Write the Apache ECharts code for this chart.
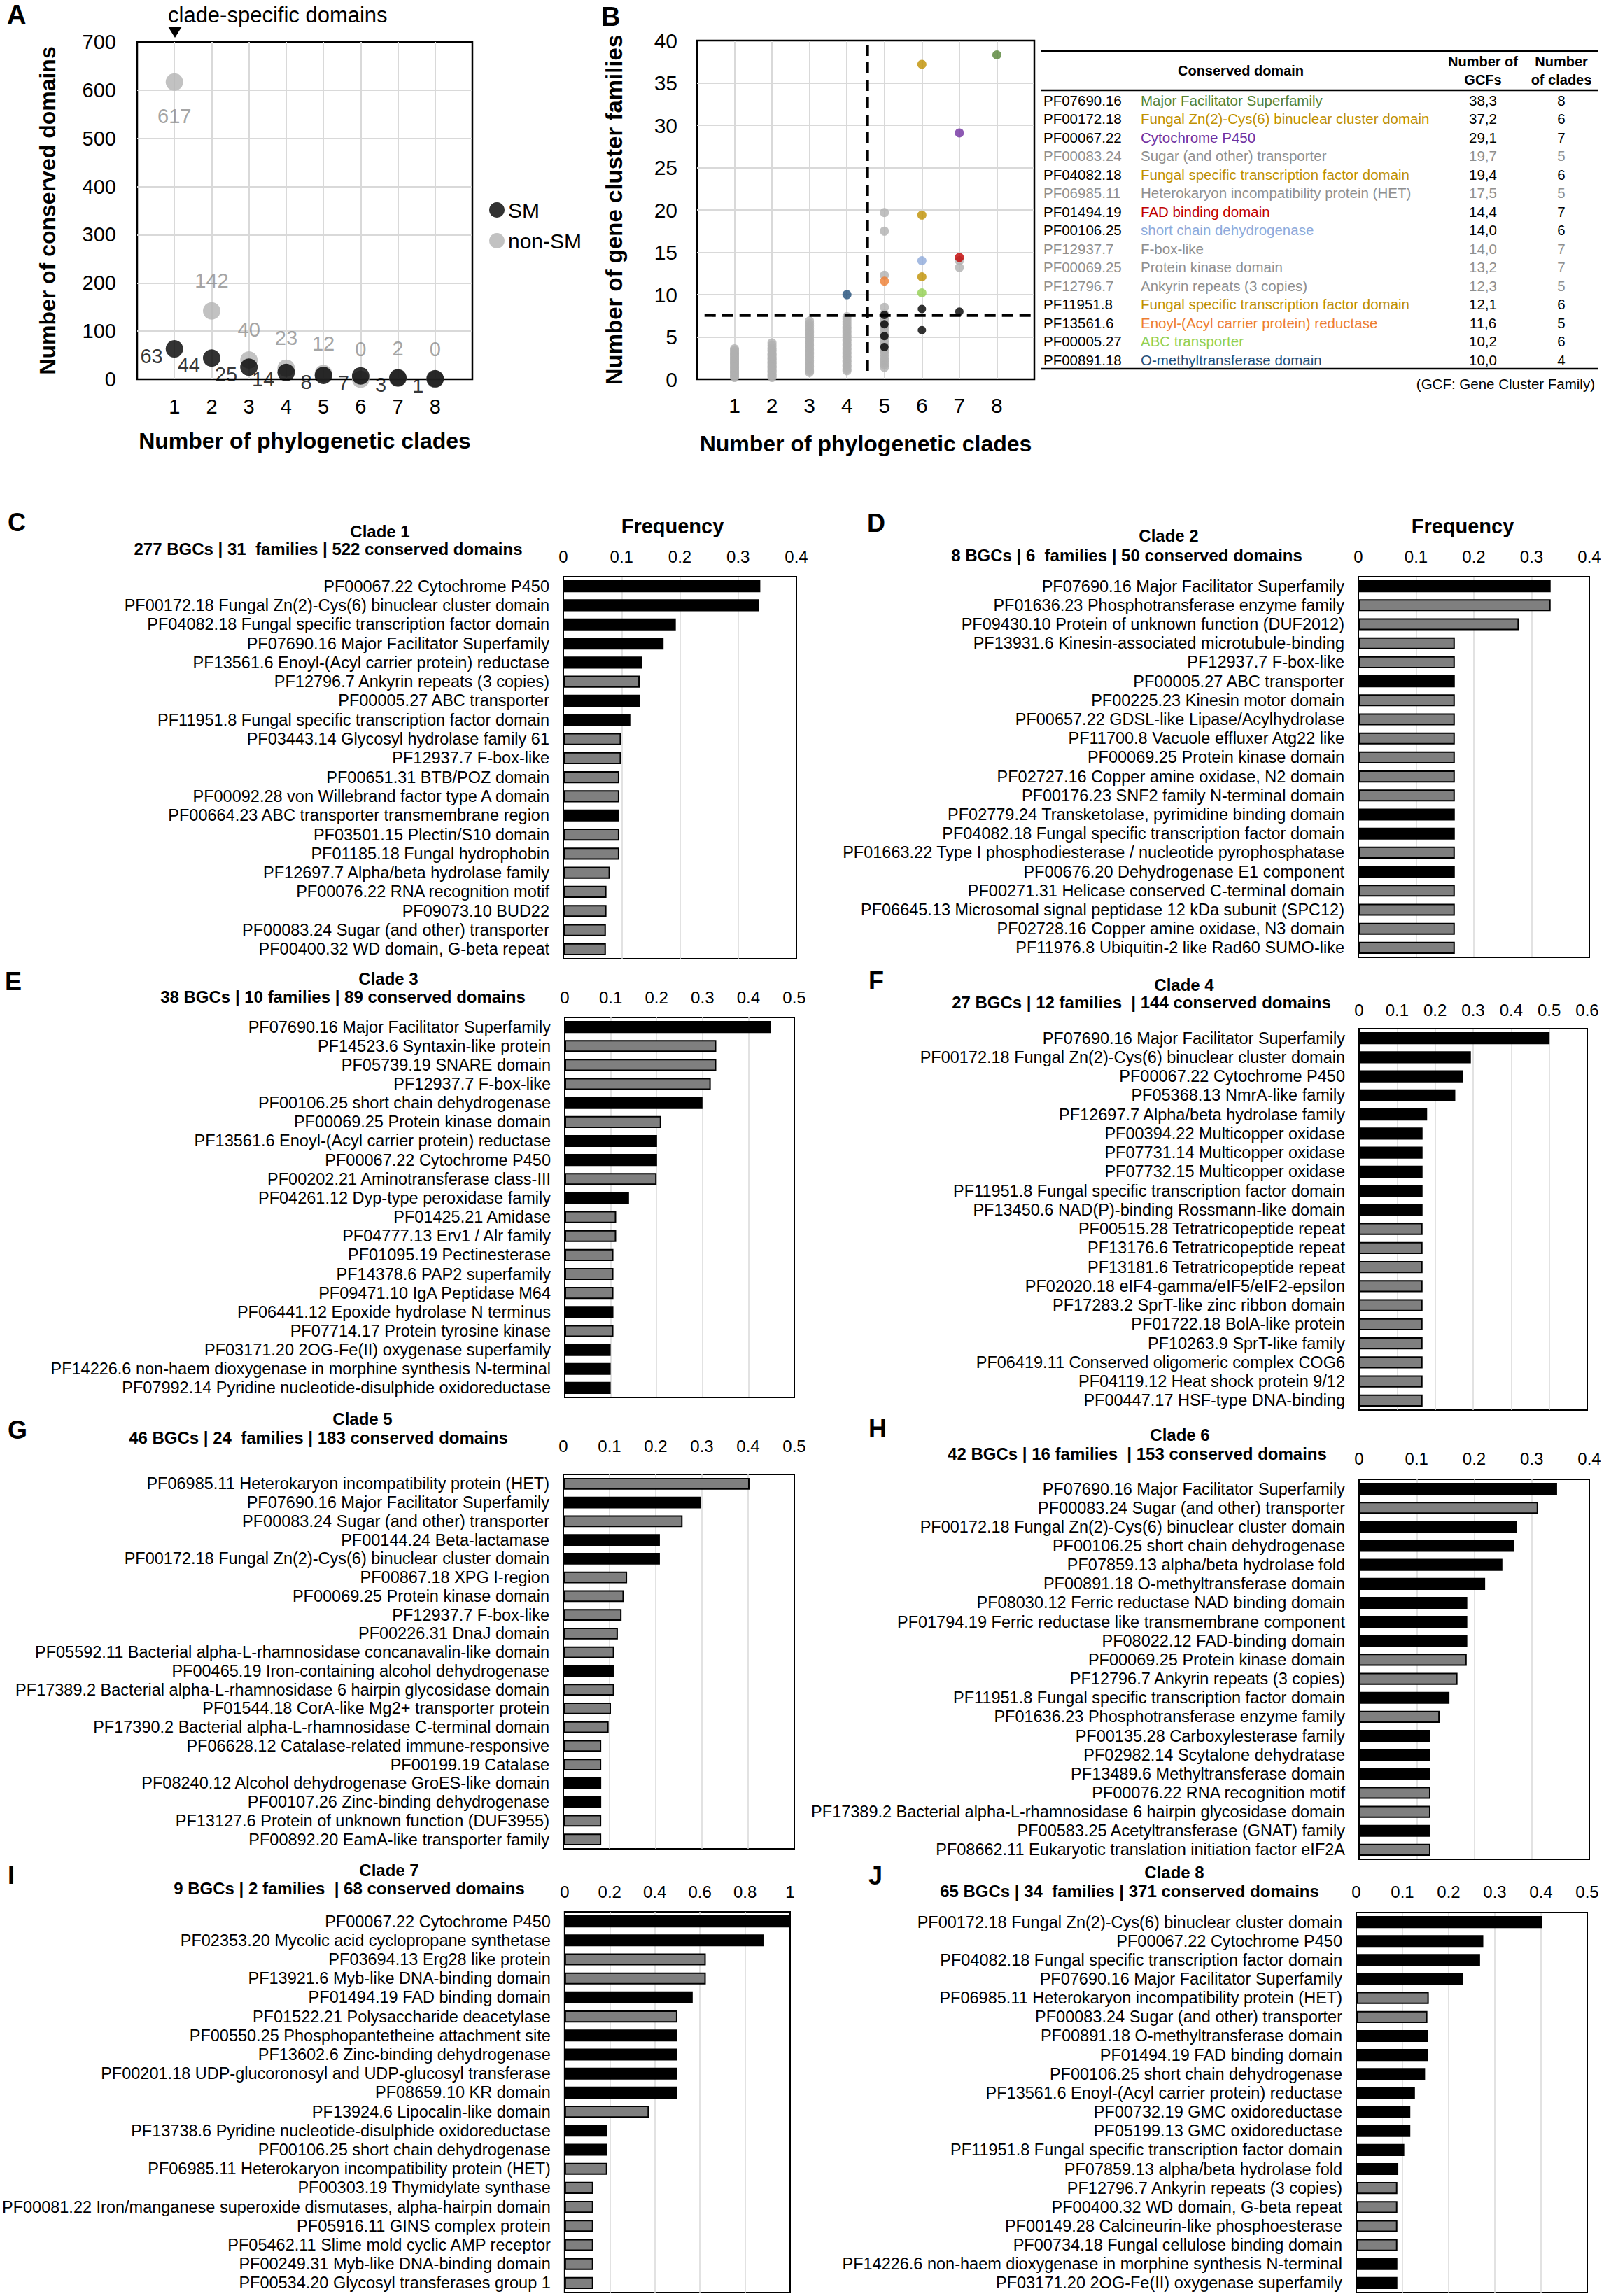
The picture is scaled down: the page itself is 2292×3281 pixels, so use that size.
<!DOCTYPE html>
<html>
<head>
<meta charset="utf-8">
<script src="https://cdn.jsdelivr.net/npm/echarts@6/dist/echarts.min.js"></script>
<style>
  html, body { margin: 0; padding: 0; background: #fff; }
  #chart { width: 2292px; height: 3281px; }
</style>
</head>
<body>
<div id="chart"></div>
<script>
const FONT = '"Liberation Sans", Arial, sans-serif';

// ---- Panel A: conserved domains per number of clades
const cladeNumbers = [1, 2, 3, 4, 5, 6, 7, 8];
const smDomains = [63, 44, 25, 14, 8, 7, 3, 1];
const nonSmDomains = [617, 142, 40, 23, 12, 0, 2, 0];

// ---- Panel B: GCFs per domain vs clades (gray = non-SM, black = SM below cut-off)
const grayClade1 = [0.2, 0.35, 0.5, 0.7, 0.85, 1.0, 1.2, 1.35, 1.5, 1.7, 1.9, 2.0, 2.2, 2.4, 2.5, 2.7, 2.9, 3.0, 3.2, 3.4, 3.6];
const grayClade2 = [0.2, 0.4, 0.5, 0.7, 0.9, 1.0, 1.2, 1.4, 1.5, 1.7, 1.9, 2.0, 2.2, 2.4, 2.5, 2.7, 2.9, 3.0, 3.3, 3.5, 3.7, 4.0, 4.3];
const grayClade3 = [0.8, 1.0, 1.2, 1.5, 1.7, 2.0, 2.2, 2.5, 2.7, 3.0, 3.2, 3.5, 3.7, 4.0, 4.2, 4.5, 4.7, 5.0, 5.2, 5.5, 5.7, 6.0, 6.3, 6.6, 6.9];
const grayClade4 = [1.0, 1.2, 1.5, 1.7, 2.0, 2.2, 2.5, 2.7, 3.0, 3.2, 3.5, 3.7, 4.0, 4.2, 4.5, 4.7, 5.0, 5.2, 5.5, 5.7, 6.0, 6.2, 6.5, 6.8, 7.1, 7.4];
const grayClade5 = [1.4, 1.7, 2.0, 2.3, 2.6, 3.0, 3.3, 3.6, 4.0, 4.3, 4.6, 5.0, 5.3, 5.6, 6.0, 6.3, 6.6, 7.0, 7.3, 7.7, 8.5];
const smLowClade = [5, 5, 5, 5, 6, 6, 7];
const smLowGcf = [7.6, 6.5, 5.1, 3.8, 8.3, 5.8, 8.0];
const cladeCutoff = 4.55;
const gcfCutoff = 7.55;

// ---- Panel B table
const tableIds = ['PF07690.16', 'PF00172.18', 'PF00067.22', 'PF00083.24', 'PF04082.18', 'PF06985.11', 'PF01494.19',
  'PF00106.25', 'PF12937.7', 'PF00069.25', 'PF12796.7', 'PF11951.8', 'PF13561.6', 'PF00005.27', 'PF00891.18'];
const tableNames = ['Major Facilitator Superfamily', 'Fungal Zn(2)-Cys(6) binuclear cluster domain', 'Cytochrome P450',
  'Sugar (and other) transporter', 'Fungal specific transcription factor domain', 'Heterokaryon incompatibility protein (HET)',
  'FAD binding domain', 'short chain dehydrogenase', 'F-box-like', 'Protein kinase domain', 'Ankyrin repeats (3 copies)',
  'Fungal specific transcription factor domain', 'Enoyl-(Acyl carrier protein) reductase', 'ABC transporter',
  'O-methyltransferase domain'];
const tableGcfs = [38.3, 37.2, 29.1, 19.7, 19.4, 17.5, 14.4, 14.0, 14.0, 13.2, 12.3, 12.1, 11.6, 10.2, 10.0];
const tableClades = [8, 6, 7, 5, 6, 5, 7, 6, 7, 7, 5, 6, 5, 6, 4];
const tableIsSm = [1, 1, 1, 0, 1, 0, 1, 1, 0, 0, 0, 1, 1, 1, 1];
const tableColors = ['#548235', '#bf9000', '#7030a0', '#8f8f8f', '#bf9000', '#8f8f8f', '#c00000',
  '#8eaadb', '#8f8f8f', '#8f8f8f', '#8f8f8f', '#bf9000', '#ed7d31', '#92d050', '#1f4e79'];

// ---- Panels C-J: top 20 domains per clade
const clade1Labels = ['PF00067.22 Cytochrome P450', 'PF00172.18 Fungal Zn(2)-Cys(6) binuclear cluster domain',
  'PF04082.18 Fungal specific transcription factor domain', 'PF07690.16 Major Facilitator Superfamily',
  'PF13561.6 Enoyl-(Acyl carrier protein) reductase', 'PF12796.7 Ankyrin repeats (3 copies)', 'PF00005.27 ABC transporter',
  'PF11951.8 Fungal specific transcription factor domain', 'PF03443.14 Glycosyl hydrolase family 61', 'PF12937.7 F-box-like',
  'PF00651.31 BTB/POZ domain', 'PF00092.28 von Willebrand factor type A domain', 'PF00664.23 ABC transporter transmembrane region',
  'PF03501.15 Plectin/S10 domain', 'PF01185.18 Fungal hydrophobin', 'PF12697.7 Alpha/beta hydrolase family',
  'PF00076.22 RNA recognition motif', 'PF09073.10 BUD22', 'PF00083.24 Sugar (and other) transporter',
  'PF00400.32 WD domain, G-beta repeat'];
const clade1Freq = [0.338, 0.336, 0.193, 0.172, 0.135, 0.131, 0.131, 0.115, 0.099, 0.099, 0.096, 0.096, 0.096, 0.096, 0.096, 0.080, 0.074, 0.074, 0.073, 0.073];
const clade1Sm = [1, 1, 1, 1, 1, 0, 1, 1, 0, 0, 0, 0, 1, 0, 0, 0, 0, 0, 0, 0];

const clade2Labels = ['PF07690.16 Major Facilitator Superfamily', 'PF01636.23 Phosphotransferase enzyme family',
  'PF09430.10 Protein of unknown function (DUF2012)', 'PF13931.6 Kinesin-associated microtubule-binding', 'PF12937.7 F-box-like',
  'PF00005.27 ABC transporter', 'PF00225.23 Kinesin motor domain', 'PF00657.22 GDSL-like Lipase/Acylhydrolase',
  'PF11700.8 Vacuole effluxer Atg22 like', 'PF00069.25 Protein kinase domain', 'PF02727.16 Copper amine oxidase, N2 domain',
  'PF00176.23 SNF2 family N-terminal domain', 'PF02779.24 Transketolase, pyrimidine binding domain',
  'PF04082.18 Fungal specific transcription factor domain', 'PF01663.22 Type I phosphodiesterase / nucleotide pyrophosphatase',
  'PF00676.20 Dehydrogenase E1 component', 'PF00271.31 Helicase conserved C-terminal domain',
  'PF06645.13 Microsomal signal peptidase 12 kDa subunit (SPC12)', 'PF02728.16 Copper amine oxidase, N3 domain',
  'PF11976.8 Ubiquitin-2 like Rad60 SUMO-like'];
const clade2Freq = [0.333, 0.333, 0.278, 0.167, 0.167, 0.167, 0.167, 0.167, 0.167, 0.167, 0.167, 0.167, 0.167, 0.167, 0.167, 0.167, 0.167, 0.167, 0.167, 0.167];
const clade2Sm = [1, 0, 0, 0, 0, 1, 0, 0, 0, 0, 0, 0, 1, 1, 0, 1, 0, 0, 0, 0];

const clade3Labels = ['PF07690.16 Major Facilitator Superfamily', 'PF14523.6 Syntaxin-like protein', 'PF05739.19 SNARE domain',
  'PF12937.7 F-box-like', 'PF00106.25 short chain dehydrogenase', 'PF00069.25 Protein kinase domain',
  'PF13561.6 Enoyl-(Acyl carrier protein) reductase', 'PF00067.22 Cytochrome P450', 'PF00202.21 Aminotransferase class-III',
  'PF04261.12 Dyp-type peroxidase family', 'PF01425.21 Amidase', 'PF04777.13 Erv1 / Alr family', 'PF01095.19 Pectinesterase',
  'PF14378.6 PAP2 superfamily', 'PF09471.10 IgA Peptidase M64', 'PF06441.12 Epoxide hydrolase N terminus',
  'PF07714.17 Protein tyrosine kinase', 'PF03171.20 2OG-Fe(II) oxygenase superfamily',
  'PF14226.6 non-haem dioxygenase in morphine synthesis N-terminal', 'PF07992.14 Pyridine nucleotide-disulphide oxidoreductase'];
const clade3Freq = [0.449, 0.330, 0.330, 0.318, 0.300, 0.210, 0.201, 0.201, 0.200, 0.140, 0.112, 0.112, 0.106, 0.106, 0.106, 0.106, 0.106, 0.100, 0.100, 0.100];
const clade3Sm = [1, 0, 0, 0, 1, 0, 1, 1, 0, 1, 0, 0, 0, 0, 0, 1, 0, 1, 1, 1];

const clade4Labels = ['PF07690.16 Major Facilitator Superfamily', 'PF00172.18 Fungal Zn(2)-Cys(6) binuclear cluster domain',
  'PF00067.22 Cytochrome P450', 'PF05368.13 NmrA-like family', 'PF12697.7 Alpha/beta hydrolase family',
  'PF00394.22 Multicopper oxidase', 'PF07731.14 Multicopper oxidase', 'PF07732.15 Multicopper oxidase',
  'PF11951.8 Fungal specific transcription factor domain', 'PF13450.6 NAD(P)-binding Rossmann-like domain',
  'PF00515.28 Tetratricopeptide repeat', 'PF13176.6 Tetratricopeptide repeat', 'PF13181.6 Tetratricopeptide repeat',
  'PF02020.18 eIF4-gamma/eIF5/eIF2-epsilon', 'PF17283.2 SprT-like zinc ribbon domain', 'PF01722.18 BolA-like protein',
  'PF10263.9 SprT-like family', 'PF06419.11 Conserved oligomeric complex COG6', 'PF04119.12 Heat shock protein 9/12',
  'PF00447.17 HSF-type DNA-binding'];
const clade4Freq = [0.501, 0.294, 0.274, 0.253, 0.179, 0.167, 0.167, 0.167, 0.167, 0.167, 0.167, 0.167, 0.167, 0.167, 0.167, 0.167, 0.167, 0.167, 0.167, 0.167];
const clade4Sm = [1, 1, 1, 1, 1, 1, 1, 1, 1, 1, 0, 0, 0, 0, 0, 0, 0, 0, 0, 0];

const clade5Labels = ['PF06985.11 Heterokaryon incompatibility protein (HET)', 'PF07690.16 Major Facilitator Superfamily',
  'PF00083.24 Sugar (and other) transporter', 'PF00144.24 Beta-lactamase',
  'PF00172.18 Fungal Zn(2)-Cys(6) binuclear cluster domain', 'PF00867.18 XPG I-region', 'PF00069.25 Protein kinase domain',
  'PF12937.7 F-box-like', 'PF00226.31 DnaJ domain', 'PF05592.11 Bacterial alpha-L-rhamnosidase concanavalin-like domain',
  'PF00465.19 Iron-containing alcohol dehydrogenase', 'PF17389.2 Bacterial alpha-L-rhamnosidase 6 hairpin glycosidase domain',
  'PF01544.18 CorA-like Mg2+ transporter protein', 'PF17390.2 Bacterial alpha-L-rhamnosidase C-terminal domain',
  'PF06628.12 Catalase-related immune-responsive', 'PF00199.19 Catalase', 'PF08240.12 Alcohol dehydrogenase GroES-like domain',
  'PF00107.26 Zinc-binding dehydrogenase', 'PF13127.6 Protein of unknown function (DUF3955)',
  'PF00892.20 EamA-like transporter family'];
const clade5Freq = [0.403, 0.298, 0.258, 0.209, 0.209, 0.138, 0.131, 0.126, 0.118, 0.110, 0.110, 0.110, 0.103, 0.098, 0.082, 0.082, 0.082, 0.082, 0.082, 0.082];
const clade5Sm = [0, 1, 0, 1, 1, 0, 0, 0, 0, 0, 1, 0, 0, 0, 0, 0, 1, 1, 0, 0];

const clade6Labels = ['PF07690.16 Major Facilitator Superfamily', 'PF00083.24 Sugar (and other) transporter',
  'PF00172.18 Fungal Zn(2)-Cys(6) binuclear cluster domain', 'PF00106.25 short chain dehydrogenase',
  'PF07859.13 alpha/beta hydrolase fold', 'PF00891.18 O-methyltransferase domain', 'PF08030.12 Ferric reductase NAD binding domain',
  'PF01794.19 Ferric reductase like transmembrane component', 'PF08022.12 FAD-binding domain', 'PF00069.25 Protein kinase domain',
  'PF12796.7 Ankyrin repeats (3 copies)', 'PF11951.8 Fungal specific transcription factor domain',
  'PF01636.23 Phosphotransferase enzyme family', 'PF00135.28 Carboxylesterase family', 'PF02982.14 Scytalone dehydratase',
  'PF13489.6 Methyltransferase domain', 'PF00076.22 RNA recognition motif',
  'PF17389.2 Bacterial alpha-L-rhamnosidase 6 hairpin glycosidase domain', 'PF00583.25 Acetyltransferase (GNAT) family',
  'PF08662.11 Eukaryotic translation initiation factor eIF2A'];
const clade6Freq = [0.344, 0.311, 0.274, 0.269, 0.249, 0.219, 0.188, 0.188, 0.188, 0.187, 0.171, 0.157, 0.140, 0.124, 0.124, 0.124, 0.124, 0.124, 0.124, 0.124];
const clade6Sm = [1, 0, 1, 1, 1, 1, 1, 1, 1, 0, 0, 1, 0, 1, 1, 1, 0, 0, 1, 0];

const clade7Labels = ['PF00067.22 Cytochrome P450', 'PF02353.20 Mycolic acid cyclopropane synthetase',
  'PF03694.13 Erg28 like protein', 'PF13921.6 Myb-like DNA-binding domain', 'PF01494.19 FAD binding domain',
  'PF01522.21 Polysaccharide deacetylase', 'PF00550.25 Phosphopantetheine attachment site',
  'PF13602.6 Zinc-binding dehydrogenase', 'PF00201.18 UDP-glucoronosyl and UDP-glucosyl transferase', 'PF08659.10 KR domain',
  'PF13924.6 Lipocalin-like domain', 'PF13738.6 Pyridine nucleotide-disulphide oxidoreductase',
  'PF00106.25 short chain dehydrogenase', 'PF06985.11 Heterokaryon incompatibility protein (HET)',
  'PF00303.19 Thymidylate synthase', 'PF00081.22 Iron/manganese superoxide dismutases, alpha-hairpin domain',
  'PF05916.11 GINS complex protein', 'PF05462.11 Slime mold cyclic AMP receptor', 'PF00249.31 Myb-like DNA-binding domain',
  'PF00534.20 Glycosyl transferases group 1'];
const clade7Freq = [1.0, 0.882, 0.626, 0.626, 0.568, 0.500, 0.500, 0.500, 0.500, 0.500, 0.374, 0.189, 0.189, 0.189, 0.127, 0.127, 0.127, 0.127, 0.127, 0.127];
const clade7Sm = [1, 1, 0, 0, 1, 0, 1, 1, 1, 1, 0, 1, 1, 0, 0, 0, 0, 0, 0, 0];

const clade8Labels = ['PF00172.18 Fungal Zn(2)-Cys(6) binuclear cluster domain', 'PF00067.22 Cytochrome P450',
  'PF04082.18 Fungal specific transcription factor domain', 'PF07690.16 Major Facilitator Superfamily',
  'PF06985.11 Heterokaryon incompatibility protein (HET)', 'PF00083.24 Sugar (and other) transporter',
  'PF00891.18 O-methyltransferase domain', 'PF01494.19 FAD binding domain', 'PF00106.25 short chain dehydrogenase',
  'PF13561.6 Enoyl-(Acyl carrier protein) reductase', 'PF00732.19 GMC oxidoreductase', 'PF05199.13 GMC oxidoreductase',
  'PF11951.8 Fungal specific transcription factor domain', 'PF07859.13 alpha/beta hydrolase fold',
  'PF12796.7 Ankyrin repeats (3 copies)', 'PF00400.32 WD domain, G-beta repeat', 'PF00149.28 Calcineurin-like phosphoesterase',
  'PF00734.18 Fungal cellulose binding domain', 'PF14226.6 non-haem dioxygenase in morphine synthesis N-terminal',
  'PF03171.20 2OG-Fe(II) oxygenase superfamily'];
const clade8Freq = [0.402, 0.275, 0.268, 0.231, 0.157, 0.154, 0.155, 0.155, 0.149, 0.127, 0.117, 0.117, 0.104, 0.091, 0.089, 0.089, 0.089, 0.089, 0.089, 0.089];
const clade8Sm = [1, 1, 1, 1, 0, 0, 1, 1, 1, 1, 1, 1, 1, 1, 0, 0, 0, 0, 1, 1];

const cladeTitles = ['Clade 1', 'Clade 2', 'Clade 3', 'Clade 4', 'Clade 5', 'Clade 6', 'Clade 7', 'Clade 8'];
const cladeSummaries = [
  '277 BGCs | 31  families | 522 conserved domains',
  '8 BGCs | 6  families | 50 conserved domains',
  '38 BGCs | 10 families | 89 conserved domains',
  '27 BGCs | 12 families  | 144 conserved domains',
  '46 BGCs | 24  families | 183 conserved domains',
  '42 BGCs | 16 families  | 153 conserved domains',
  '9 BGCs | 2 families  | 68 conserved domains',
  '65 BGCs | 34  families | 371 conserved domains'
];
const panelLetters = ['C', 'D', 'E', 'F', 'G', 'H', 'I', 'J'];

const labelSets = [clade1Labels, clade2Labels, clade3Labels, clade4Labels, clade5Labels, clade6Labels, clade7Labels, clade8Labels];
const freqSets = [clade1Freq, clade2Freq, clade3Freq, clade4Freq, clade5Freq, clade6Freq, clade7Freq, clade8Freq];
const smSets = [clade1Sm, clade2Sm, clade3Sm, clade4Sm, clade5Sm, clade6Sm, clade7Sm, clade8Sm];

// layout of the bar panels (pixels)
const barLayout = [
  { left: 805, top: 824, width: 333, height: 546, max: 0.4, step: 0.1, tickGap: 17, letter: [11, 746], title: [543, 759], sub: [469, 784], freq: [961, 752] },
  { left: 1941, top: 824, width: 330, height: 544, max: 0.4, step: 0.1, tickGap: 17, letter: [1239, 747], title: [1670, 765], sub: [1610, 793], freq: [2090, 752] },
  { left: 807, top: 1454, width: 328, height: 543, max: 0.5, step: 0.1, tickGap: 17, letter: [7, 1402], title: [555, 1398], sub: [490, 1424] },
  { left: 1942, top: 1470, width: 326, height: 545, max: 0.6, step: 0.1, tickGap: 15, letter: [1241, 1401], title: [1692, 1407], sub: [1631, 1432] },
  { left: 805, top: 2107, width: 330, height: 535, max: 0.5, step: 0.1, tickGap: 29, letter: [11, 2043], title: [518, 2027], sub: [455, 2054] },
  { left: 1942, top: 2114, width: 329, height: 543, max: 0.4, step: 0.1, tickGap: 18, letter: [1241, 2041], title: [1686, 2050], sub: [1625, 2077] },
  { left: 800, top: 2732, width: 329, height: 544, max: 1.0, step: 0.2, tickGap: 17, letter: [11, 2679], title: [556, 2672], sub: [499, 2698] },
  { left: 1938, top: 2733, width: 330, height: 543, max: 0.5, step: 0.1, tickGap: 18, letter: [1241, 2680], title: [1678, 2675], sub: [1614, 2702] }
];

const chart = echarts.init(document.getElementById('chart'), null, { renderer: 'svg' });

const txt = (size, bold) => ({ fontSize: size, fontWeight: bold ? 'bold' : 'normal', color: '#000', fontFamily: FONT });
const gridLine = { show: true, showMinLine: false, showMaxLine: false, lineStyle: { color: '#d9d9d9', width: 2 } };
const cladeFormatter = v => (v >= 1 && v <= 8) ? String(v) : '';

const grids = [
  { left: 196, top: 60, width: 479, height: 482, show: true, borderColor: '#000', borderWidth: 2.5, backgroundColor: 'transparent' },
  { left: 996, top: 58, width: 482, height: 484, show: true, borderColor: '#000', borderWidth: 2.5, backgroundColor: 'transparent' }
];
const xAxes = [
  { gridIndex: 0, type: 'value', min: 0, max: 9, interval: 1, axisLine: { show: false }, axisTick: { show: false },
    splitLine: gridLine, axisLabel: Object.assign(txt(29), { margin: 24, formatter: cladeFormatter }),
    name: 'Number of phylogenetic clades', nameLocation: 'middle', nameGap: 72, nameTextStyle: txt(32, true) },
  { gridIndex: 1, type: 'value', min: 0, max: 9, interval: 1, axisLine: { show: false }, axisTick: { show: false },
    splitLine: gridLine, axisLabel: Object.assign(txt(30), { margin: 22, formatter: cladeFormatter }),
    name: 'Number of phylogenetic clades', nameLocation: 'middle', nameGap: 76, nameTextStyle: txt(32, true) }
];
const yAxes = [
  { gridIndex: 0, type: 'value', min: 0, max: 700, interval: 100, axisLine: { show: false }, axisTick: { show: false },
    splitLine: gridLine, axisLabel: Object.assign(txt(29), { margin: 30 }),
    name: 'Number of conserved domains', nameLocation: 'middle', nameGap: 112, nameTextStyle: txt(32, true) },
  { gridIndex: 1, type: 'value', min: 0, max: 40, interval: 5, axisLine: { show: false }, axisTick: { show: false },
    splitLine: gridLine, axisLabel: Object.assign(txt(30), { margin: 28 }),
    name: 'Number of gene cluster families', nameLocation: 'middle', nameGap: 102, nameTextStyle: txt(33, true) }
];

const series = [
  {
    name: 'non-SM', type: 'scatter', xAxisIndex: 0, yAxisIndex: 0, symbolSize: 25,
    itemStyle: { color: '#b3b3b3' },
    label: { show: true, position: 'top', distance: 16, fontSize: 29, color: '#8c8c8c', fontFamily: FONT,
      formatter: p => String(p.value[1]) },
    data: nonSmDomains.map((v, i) => i === 0
      ? { value: [cladeNumbers[i], v], label: { position: 'bottom', distance: 22 } }
      : [cladeNumbers[i], v])
  },
  {
    name: 'SM', type: 'scatter', xAxisIndex: 0, yAxisIndex: 0, symbolSize: 25,
    itemStyle: { color: '#000' },
    label: { show: true, position: 'left', distance: 4, offset: [0, 10], fontSize: 29, color: '#000', fontFamily: FONT,
      formatter: p => String(p.value[1]) },
    data: smDomains.map((v, i) => [cladeNumbers[i], v])
  }
];

// Panel B points
const grayCols = [grayClade1, grayClade2, grayClade3, grayClade4, grayClade5];
const grayPts = [];
grayCols.forEach((col, c) => col.forEach(v => grayPts.push([c + 1, v])));
tableGcfs.forEach((v, i) => { if (!tableIsSm[i]) grayPts.push([tableClades[i], v]); });
series.push({ type: 'scatter', xAxisIndex: 1, yAxisIndex: 1, symbolSize: 13, itemStyle: { color: '#b0b0b0' }, data: grayPts, z: 2 });
series.push({ type: 'scatter', xAxisIndex: 1, yAxisIndex: 1, symbolSize: 12, itemStyle: { color: '#000' },
  data: smLowGcf.map((v, i) => [smLowClade[i], v]), z: 3 });
series.push({ type: 'scatter', xAxisIndex: 1, yAxisIndex: 1, symbolSize: 13, z: 3,
  data: tableGcfs.map((v, i) => tableIsSm[i] ? { value: [tableClades[i], v], itemStyle: { color: tableColors[i] } } : null)
    .filter(d => d) });
const dashed = { color: '#000', width: 4, type: [16, 9] };
series.push({ type: 'line', xAxisIndex: 1, yAxisIndex: 1, symbol: 'none', lineStyle: dashed, z: 4, silent: true,
  data: [[cladeCutoff, 1.0], [cladeCutoff, 39.7]] });
series.push({ type: 'line', xAxisIndex: 1, yAxisIndex: 1, symbol: 'none', lineStyle: dashed, z: 4, silent: true,
  data: [[0.2, gcfCutoff], [9, gcfCutoff]] });

const graphics = [
  { type: 'text', x: 10, y: 21, style: { text: 'A', font: 'bold 38px ' + FONT, fill: '#000', verticalAlign: 'middle' } },
  { type: 'text', x: 859, y: 24, style: { text: 'B', font: 'bold 38px ' + FONT, fill: '#000', verticalAlign: 'middle' } },
  { type: 'text', x: 240, y: 21, style: { text: 'clade-specific domains', font: '31px ' + FONT, fill: '#000', verticalAlign: 'middle' } },
  { type: 'polygon', shape: { points: [[240, 38], [260, 38], [250, 54]] }, style: { fill: '#000' } }
];

// bar panels
barLayout.forEach((L, k) => {
  const gi = grids.length;
  grids.push({ left: L.left, top: L.top, width: L.width, height: L.height, show: true,
    borderColor: '#000', borderWidth: 2, backgroundColor: 'transparent' });
  xAxes.push({ gridIndex: gi, type: 'value', position: 'top', min: 0, max: L.max, interval: L.step,
    axisLine: { show: false }, axisTick: { show: false },
    splitLine: { show: true, showMinLine: false, showMaxLine: false, lineStyle: { color: '#d9d9d9', width: 1.5 } },
    axisLabel: Object.assign(txt(24), { margin: L.tickGap }) });
  yAxes.push({ gridIndex: gi, type: 'category', inverse: true, data: labelSets[k],
    axisLine: { show: false }, axisTick: { show: false },
    axisLabel: Object.assign(txt(23.5), { margin: 20, interval: 0 }) });
  series.push({ type: 'bar', xAxisIndex: gi, yAxisIndex: gi, barWidth: '63%',
    data: freqSets[k].map((v, i) => ({ value: v,
      itemStyle: smSets[k][i] ? { color: '#000' } : { color: '#7f7f7f', borderColor: '#000', borderWidth: 2 } })) });
  graphics.push({ type: 'text', x: L.letter[0], y: L.letter[1], style: { text: panelLetters[k], font: 'bold 36px ' + FONT, fill: '#000', verticalAlign: 'middle' } });
  graphics.push({ type: 'text', x: L.title[0], y: L.title[1], style: { text: cladeTitles[k], font: 'bold 24px ' + FONT, fill: '#000', align: 'center', verticalAlign: 'middle' } });
  graphics.push({ type: 'text', x: L.sub[0], y: L.sub[1], style: { text: cladeSummaries[k], font: 'bold 24px ' + FONT, fill: '#000', align: 'center', verticalAlign: 'middle' } });
  if (L.freq) {
    graphics.push({ type: 'text', x: L.freq[0], y: L.freq[1], style: { text: 'Frequency', font: 'bold 29px ' + FONT, fill: '#000', align: 'center', verticalAlign: 'middle' } });
  }
});

// table in panel B
const tb = { x0: 1487, x1: 2283, top: 73, headRule: 129, firstRow: 143, pitch: 26.5, bottom: 527,
  idX: 1491, nameX: 1630, gcfX: 2119, cladeX: 2231 };
const rule = y => ({ type: 'line', shape: { x1: tb.x0, y1: y, x2: tb.x1, y2: y }, style: { stroke: '#000', lineWidth: 2.5 } });
graphics.push(rule(tb.top), rule(tb.headRule), rule(tb.bottom));
const headFont = 'bold 20px ' + FONT;
const rowFont = '20.5px ' + FONT;
graphics.push(
  { type: 'text', x: 1773, y: 101, style: { text: 'Conserved domain', font: headFont, fill: '#000', align: 'center', verticalAlign: 'middle' } },
  { type: 'text', x: tb.gcfX, y: 88, style: { text: 'Number of', font: headFont, fill: '#000', align: 'center', verticalAlign: 'middle' } },
  { type: 'text', x: tb.gcfX, y: 114, style: { text: 'GCFs', font: headFont, fill: '#000', align: 'center', verticalAlign: 'middle' } },
  { type: 'text', x: tb.cladeX, y: 88, style: { text: 'Number', font: headFont, fill: '#000', align: 'center', verticalAlign: 'middle' } },
  { type: 'text', x: tb.cladeX, y: 114, style: { text: 'of clades', font: headFont, fill: '#000', align: 'center', verticalAlign: 'middle' } },
  { type: 'text', x: 2279, y: 548, style: { text: '(GCF: Gene Cluster Family)', font: rowFont, fill: '#000', align: 'right', verticalAlign: 'middle' } }
);
tableIds.forEach((id, i) => {
  const y = tb.firstRow + i * tb.pitch;
  const base = tableIsSm[i] ? '#000' : '#8f8f8f';
  graphics.push(
    { type: 'text', x: tb.idX, y, style: { text: id, font: rowFont, fill: base, verticalAlign: 'middle' } },
    { type: 'text', x: tb.nameX, y, style: { text: tableNames[i], font: rowFont, fill: tableColors[i], verticalAlign: 'middle' } },
    { type: 'text', x: tb.gcfX, y, style: { text: tableGcfs[i].toFixed(1).replace('.', ','), font: rowFont, fill: base, align: 'center', verticalAlign: 'middle' } },
    { type: 'text', x: tb.cladeX, y, style: { text: String(tableClades[i]), font: rowFont, fill: base, align: 'center', verticalAlign: 'middle' } }
  );
});

chart.setOption({
  animation: false,
  backgroundColor: '#fff',
  textStyle: { fontFamily: FONT },
  legend: [{ data: ['SM', 'non-SM'], orient: 'vertical', left: 694, top: 280, icon: 'circle',
    itemWidth: 22, itemHeight: 22, itemGap: 14, selectedMode: false, textStyle: txt(30) }],
  grid: grids,
  xAxis: xAxes,
  yAxis: yAxes,
  series: series,
  graphic: graphics
});
</script>
</body>
</html>
